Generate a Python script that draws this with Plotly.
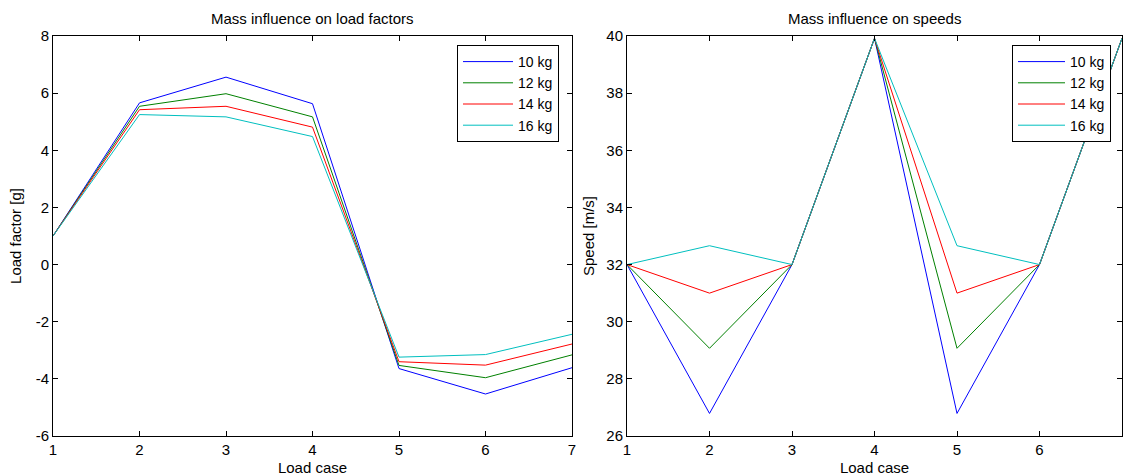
import plotly.graph_objects as go

load_cases = [1, 2, 3, 4, 5, 6, 7]
series_names = ["10 kg", "12 kg", "14 kg", "16 kg"]
colors = ["#0000FF", "#008000", "#FF0000", "#00BFBF"]

load_factor = {
    "10 kg": [1.0, 5.66, 6.56, 5.63, -3.64, -4.53, -3.61],
    "12 kg": [1.0, 5.54, 5.98, 5.17, -3.53, -3.96, -3.16],
    "14 kg": [1.0, 5.42, 5.54, 4.81, -3.40, -3.52, -2.78],
    "16 kg": [1.0, 5.25, 5.17, 4.48, -3.24, -3.15, -2.44],
}
speed = {
    "10 kg": [32.0, 26.79, 32.0, 39.92, 26.79, 32.0, 39.92],
    "12 kg": [32.0, 29.07, 32.0, 39.92, 29.07, 32.0, 39.92],
    "14 kg": [32.0, 31.00, 32.0, 39.92, 31.00, 32.0, 39.92],
    "16 kg": [32.0, 32.66, 32.0, 39.92, 32.66, 32.0, 39.92],
}

lf_ticks = [-6, -4, -2, 0, 2, 4, 6, 8]
sp_ticks = [26, 28, 30, 32, 34, 36, 38, 40]
x_ticks = [1, 2, 3, 4, 5, 6, 7]

W, H = 1123, 476
FONT = "Liberation Sans, Arial, sans-serif"
FS = 15

fig = go.Figure()
for name, c in zip(series_names, colors):
    fig.add_trace(go.Scatter(x=load_cases, y=load_factor[name], mode="lines", name=name,
                             line=dict(color=c, width=1), xaxis="x", yaxis="y", legend="legend"))
for name, c in zip(series_names, colors):
    fig.add_trace(go.Scatter(x=load_cases, y=speed[name], mode="lines", name=name,
                             line=dict(color=c, width=1), xaxis="x2", yaxis="y2", legend="legend2"))

def px_x(p):
    return p / W

def px_y(p):
    return 1 - p / H

ydom = [px_y(436), px_y(36)]
axis_common = dict(showline=True, linecolor="black", linewidth=1, mirror="ticks",
                   ticks="inside", ticklen=5, tickcolor="black", showgrid=False, zeroline=False,
                   automargin=False,
                   tickfont=dict(family=FONT, size=FS, color="black"))

fig.update_layout(
    width=W, height=H, margin=dict(l=0, r=0, t=0, b=0, autoexpand=False),
    paper_bgcolor="white", plot_bgcolor="white",
    font=dict(family=FONT, size=FS, color="black"),
    xaxis=dict(domain=[px_x(53), px_x(572)], range=[1, 7], tickvals=x_ticks,
               ticktext=[str(v) for v in x_ticks], anchor="y",
               title=dict(text="Load case", font=dict(size=FS), standoff=5), **axis_common),
    yaxis=dict(domain=ydom, range=[-6, 8], tickvals=lf_ticks,
               ticktext=[str(v) for v in lf_ticks], anchor="x",
               title=dict(text="Load factor [g]", font=dict(size=FS), standoff=10), **axis_common),
    xaxis2=dict(domain=[px_x(627), px_x(1122)], range=[1, 7], tickvals=x_ticks,
                ticktext=[str(v) for v in x_ticks], anchor="y2",
                title=dict(text="Load case", font=dict(size=FS), standoff=5), **axis_common),
    yaxis2=dict(domain=ydom, range=[26, 40], tickvals=sp_ticks,
                ticktext=[str(v) for v in sp_ticks], anchor="x2",
                title=dict(text="Speed [m/s]", font=dict(size=FS), standoff=8), **axis_common),
    legend=dict(x=px_x(457), y=px_y(45), xanchor="left", yanchor="top",
                bordercolor="black", borderwidth=1, bgcolor="white",
                font=dict(family=FONT, size=14), itemwidth=50),
    legend2=dict(x=px_x(1012), y=px_y(45), xanchor="left", yanchor="top",
                 bordercolor="black", borderwidth=1, bgcolor="white",
                 font=dict(family=FONT, size=14), itemwidth=47),
    annotations=[
        dict(text="Mass influence on load factors", x=px_x(312.5), y=px_y(19), xref="paper", yref="paper",
             showarrow=False, font=dict(family=FONT, size=FS), xanchor="center", yanchor="middle"),
        dict(text="Mass influence on speeds", x=px_x(874.5), y=px_y(19), xref="paper", yref="paper",
             showarrow=False, font=dict(family=FONT, size=FS), xanchor="center", yanchor="middle"),
    ],
)

fig.write_html("out.html", config={"displayModeBar": False},
               post_script="document.body.style.margin='0';document.body.style.padding='0';")
